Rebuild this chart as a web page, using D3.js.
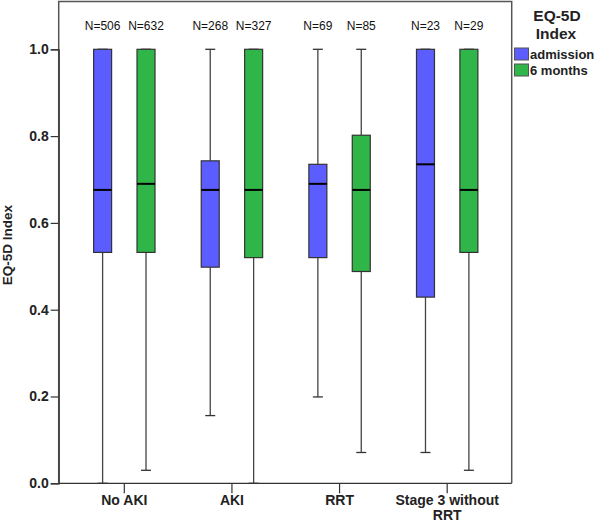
<!DOCTYPE html>
<html><head><meta charset="utf-8">
<script src="https://cdn.jsdelivr.net/npm/d3@7"></script>
<style>body{margin:0;background:#fff}svg{display:block}text{font-family:Arial,"Liberation Sans",sans-serif}</style>
</head><body><svg id="c" width="600" height="522"></svg>
<script>
const categories = ["No AKI", "AKI", "RRT", "Stage 3 without RRT"];
const groups = ["admission", "6 months"];
const nLabels = [["N=506","N=632"],["N=268","N=327"],["N=69","N=85"],["N=23","N=29"]];
// [min, q1, median, q3, max]
const admission = [[0,0.532,0.676,1.0,1.0],[0.156,0.498,0.676,0.743,1.0],[0.199,0.52,0.69,0.735,1.0],[0.071,0.429,0.735,1.0,1.0]];
const sixMonths = [[0.03,0.532,0.69,1.0,1.0],[0,0.52,0.676,1.0,1.0],[0.071,0.488,0.676,0.802,1.0],[0.03,0.532,0.676,1.0,1.0]];
const yTicks = [0,0.2,0.4,0.6,0.8,1.0];
const colors = {"admission":"#5b5dff","6 months":"#2fb548"};

const svg = d3.select("#c");
const y = d3.scaleLinear().domain([0,1]).range([483.3,49.3]);
const x = d3.scaleBand().domain(categories).range([70.5,501]);
const xs = d3.scalePoint().domain(groups).range([-21.7,21.7]);
const bw = 18, cap = 10;

// frame
svg.append("path").attr("d","M58.7,483.3V1.5H511.7V483.3").attr("fill","none").attr("stroke","#555").attr("stroke-width",1.5);

// y axis
const ya = svg.append("g").attr("transform","translate(58.7,0)")
  .call(d3.axisLeft(y).tickValues(yTicks).tickFormat(d3.format(".1f")).tickSize(8).tickPadding(2));
ya.select(".domain").attr("stroke","#333").attr("stroke-width",1.2);
ya.selectAll(".tick line").attr("stroke","#333").attr("stroke-width",1.2);
ya.selectAll(".tick text").attr("font-size",14).attr("font-weight","bold").attr("fill","#222").attr("font-family","Arial, 'Liberation Sans', sans-serif");

svg.append("text").attr("transform","translate(12,245) rotate(-90)").attr("text-anchor","middle")
  .attr("font-size",13.5).attr("font-weight","bold").attr("fill","#222").text("EQ-5D Index");

// x axis
const xa = svg.append("g").attr("transform","translate(0,483.3)")
  .call(d3.axisBottom(x).tickSize(10).tickFormat(""));
xa.select(".domain").attr("stroke","#333").attr("stroke-width",1.2).attr("d","M58.7,0H511.7");
xa.selectAll(".tick line").attr("stroke","#333").attr("stroke-width",1.2);
categories.forEach(c => {
  const cx = x(c) + x.bandwidth()/2;
  const t = svg.append("text").attr("text-anchor","middle").attr("font-size",14).attr("font-weight","bold").attr("fill","#222");
  if (c === "Stage 3 without RRT") {
    t.append("tspan").attr("x",cx).attr("y",505).text("Stage 3 without");
    t.append("tspan").attr("x",cx).attr("y",520).text("RRT");
  } else {
    t.attr("x",cx).attr("y",505).text(c);
  }
});

// boxes
const seriesData = {"admission":admission, "6 months":sixMonths};
categories.forEach((c,i) => {
  groups.forEach((g,j) => {
    const d = seriesData[g][i];
    const cx = x(c) + x.bandwidth()/2 + xs(g);
    const gg = svg.append("g");
    // whiskers
    gg.append("line").attr("x1",cx).attr("x2",cx).attr("y1",y(d[0])).attr("y2",y(d[1])).attr("stroke","#444").attr("stroke-width",1.3);
    gg.append("line").attr("x1",cx).attr("x2",cx).attr("y1",y(d[3])).attr("y2",y(d[4])).attr("stroke","#444").attr("stroke-width",1.3);
    gg.append("line").attr("x1",cx-cap/2).attr("x2",cx+cap/2).attr("y1",y(d[0])).attr("y2",y(d[0])).attr("stroke","#333").attr("stroke-width",1.3);
    gg.append("line").attr("x1",cx-cap/2).attr("x2",cx+cap/2).attr("y1",y(d[4])).attr("y2",y(d[4])).attr("stroke","#333").attr("stroke-width",1.3);
    gg.append("rect").attr("x",cx-bw/2).attr("width",bw).attr("y",y(d[3])).attr("height",y(d[1])-y(d[3]))
      .attr("fill",colors[g]).attr("stroke","#333").attr("stroke-width",1.2);
    gg.append("line").attr("x1",cx-bw/2).attr("x2",cx+bw/2).attr("y1",y(d[2])).attr("y2",y(d[2])).attr("stroke","#000").attr("stroke-width",2);
    svg.append("text").attr("x",cx).attr("y",30).attr("text-anchor","middle").attr("font-size",12).attr("fill","#111").text(nLabels[i][j]);
  });
});

// legend
svg.append("text").attr("x",557).attr("y",21).attr("text-anchor","middle").attr("font-size",15.5).attr("font-weight","bold").attr("fill","#222").text("EQ-5D");
svg.append("text").attr("x",556).attr("y",39).attr("text-anchor","middle").attr("font-size",15.5).attr("font-weight","bold").attr("fill","#222").text("Index");
groups.forEach((g,j) => {
  const yy = 48 + j*16;
  svg.append("rect").attr("x",514.5).attr("y",yy).attr("width",14).attr("height",12).attr("fill",colors[g]).attr("stroke","#555").attr("stroke-width",1);
  svg.append("text").attr("x",530).attr("y",yy+10.5).attr("font-size",13).attr("font-weight","bold").attr("fill","#222").text(g);
});
</script></body></html>
